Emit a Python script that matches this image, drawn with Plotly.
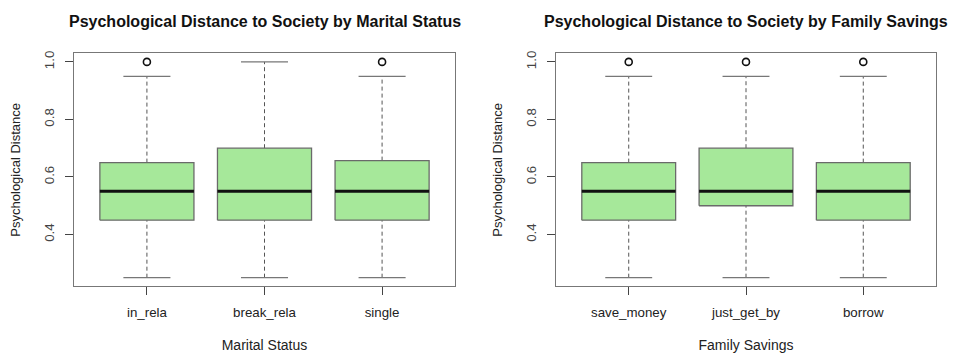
import plotly.graph_objects as go

# Marital status groups
marital_groups = ["in_rela", "break_rela", "single"]
marital_low = [0.25, 0.25, 0.25]
marital_q1 = [0.45, 0.45, 0.45]
marital_med = [0.55, 0.55, 0.55]
marital_q3 = [0.65, 0.70, 0.657]
marital_high = [0.95, 1.00, 0.95]
marital_out = [[1.0], [], [1.0]]

# Family savings groups
savings_groups = ["save_money", "just_get_by", "borrow"]
savings_low = [0.25, 0.25, 0.25]
savings_q1 = [0.45, 0.50, 0.45]
savings_med = [0.55, 0.55, 0.55]
savings_q3 = [0.65, 0.70, 0.65]
savings_high = [0.95, 0.95, 0.95]
savings_out = [[1.0], [1.0], [1.0]]

y_ticks = [0.4, 0.6, 0.8, 1.0]

FILL = "#a6e89a"
EDGE = "#6a6a6a"
FONT = "Liberation Sans, Arial, sans-serif"
BOX_HALF = 0.4
CAP_HALF = 0.2

fig = go.Figure()


def add_boxes(xa, ya, low, q1, med, q3, high, outs):
    for i in range(len(med)):
        x = i + 1
        # dashed whiskers
        fig.add_trace(go.Scatter(
            x=[x, x, None, x, x], y=[low[i], q1[i], None, q3[i], high[i]],
            mode="lines", line=dict(color="#555555", width=1, dash="4px,3px"),
            xaxis=xa, yaxis=ya, hoverinfo="skip", showlegend=False))
        # caps
        fig.add_trace(go.Scatter(
            x=[x - CAP_HALF, x + CAP_HALF, None, x - CAP_HALF, x + CAP_HALF],
            y=[low[i], low[i], None, high[i], high[i]],
            mode="lines", line=dict(color="#777777", width=1.3),
            xaxis=xa, yaxis=ya, hoverinfo="skip", showlegend=False))
        # box
        fig.add_trace(go.Scatter(
            x=[x - BOX_HALF, x + BOX_HALF, x + BOX_HALF, x - BOX_HALF, x - BOX_HALF],
            y=[q1[i], q1[i], q3[i], q3[i], q1[i]],
            mode="lines", fill="toself", fillcolor=FILL,
            line=dict(color=EDGE, width=1.3),
            xaxis=xa, yaxis=ya, hoverinfo="skip", showlegend=False))
        # median
        fig.add_trace(go.Scatter(
            x=[x - BOX_HALF, x + BOX_HALF], y=[med[i], med[i]],
            mode="lines", line=dict(color="#111111", width=3),
            xaxis=xa, yaxis=ya, hoverinfo="skip", showlegend=False))
        # outliers
        if outs[i]:
            fig.add_trace(go.Scatter(
                x=[x] * len(outs[i]), y=outs[i], mode="markers",
                marker=dict(symbol="circle-open", size=7, color="#111111",
                            line=dict(width=1.6)),
                xaxis=xa, yaxis=ya, hoverinfo="skip", showlegend=False))


add_boxes("x", "y", marital_low, marital_q1, marital_med, marital_q3,
          marital_high, marital_out)
add_boxes("x2", "y2", savings_low, savings_q1, savings_med, savings_q3,
          savings_high, savings_out)

W, H = 955, 358
ydom = [(358 - 285.7) / H, (358 - 50.7) / H]

xcommon = dict(range=[0.38, 3.62], tickvals=[1, 2, 3], ticks="outside", ticklen=8,
               tickcolor="#444444", showline=True, mirror=True, linecolor="#777777",
               linewidth=1.2, showgrid=False, zeroline=False, ticklabelstandoff=6,
               tickfont=dict(family=FONT, size=13.3, color="#222222"),
               fixedrange=True)
ycommon = dict(range=[0.22, 1.03], tickvals=y_ticks, ticktext=["0.4", "0.6", "0.8", "1.0"],
               ticks="outside", ticklen=8, tickcolor="#444444", tickangle=-90,
               showline=True, mirror=True, linecolor="#777777", linewidth=1.2,
               showgrid=False, zeroline=False, ticklabelstandoff=6,
               tickfont=dict(family=FONT, size=13.3, color="#444444"),
               title=dict(text="Psychological Distance",
                          font=dict(family=FONT, size=13, color="#222222"), standoff=18),
               fixedrange=True)

fig.update_layout(
    width=W, height=H,
    margin=dict(l=0, r=0, t=0, b=0),
    paper_bgcolor="white", plot_bgcolor="white",
    xaxis=dict(xcommon, domain=[74 / W, 455 / W], ticktext=marital_groups,
               title=dict(text="Marital Status", font=dict(family=FONT, size=14, color="#222222"),
                          standoff=20)),
    yaxis=dict(ycommon, domain=ydom, anchor="x"),
    xaxis2=dict(xcommon, domain=[556 / W, 936 / W], ticktext=savings_groups, anchor="y2",
                title=dict(text="Family Savings", font=dict(family=FONT, size=14, color="#222222"),
                           standoff=20)),
    yaxis2=dict(ycommon, domain=ydom, anchor="x2"),
    annotations=[
        dict(text="<b>Psychological Distance to Society by Marital Status</b>",
             x=(74 + 455) / 2 / W, y=1 - 19 / H, xref="paper", yref="paper",
             showarrow=False, font=dict(family=FONT, size=16, color="#111111"),
             xanchor="center", yanchor="middle"),
        dict(text="<b>Psychological Distance to Society by Family Savings</b>",
             x=(556 + 936) / 2 / W, y=1 - 19 / H, xref="paper", yref="paper",
             showarrow=False, font=dict(family=FONT, size=16, color="#111111"),
             xanchor="center", yanchor="middle"),
    ],
)

fig.write_html("out.html")
